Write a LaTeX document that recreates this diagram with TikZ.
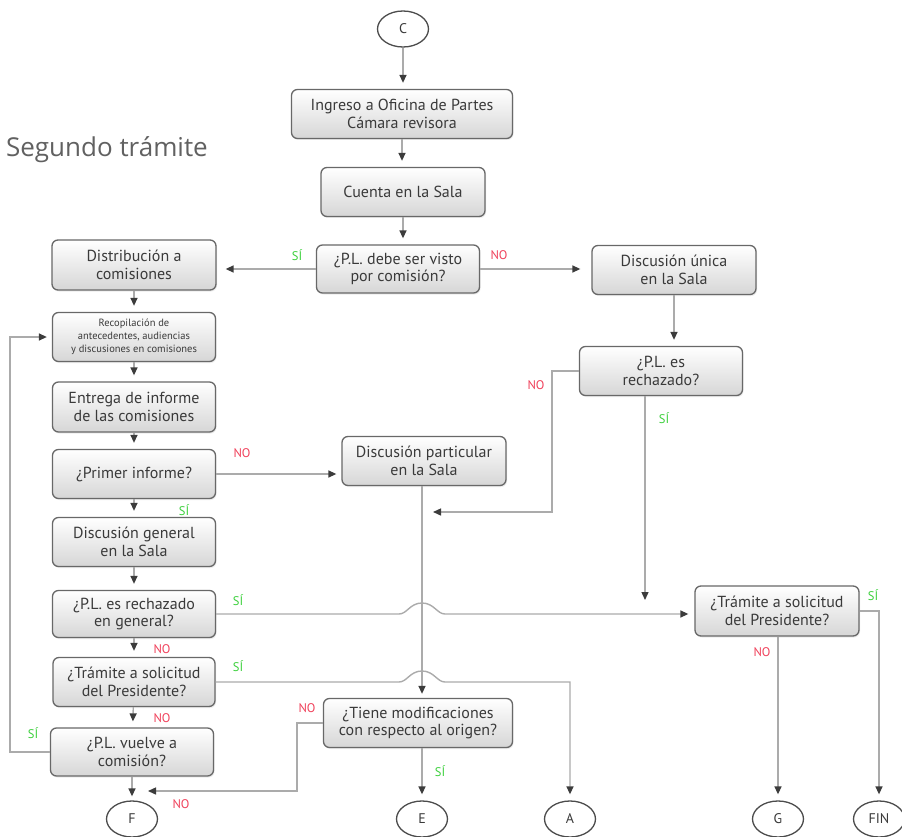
\documentclass[tikz,border=0pt]{standalone}
\usepackage{fontspec}
\setmainfont{PT Sans}
\newfontfamily\titlefont{Open Sans}
\usetikzlibrary{arrows.meta,shapes.geometric,shadows}
\definecolor{lnc}{HTML}{ABABAB}
\definecolor{tipc}{HTML}{3C3C3C}
\definecolor{bdc}{HTML}{686868}
\definecolor{txc}{HTML}{3A3A3A}
\definecolor{sigreen}{HTML}{3BD03B}
\definecolor{nored}{HTML}{F0405A}
\tikzset{
  box/.style={draw=bdc, line width=1.3pt, rounded corners=6pt, top color=white, bottom color=black!16,
    minimum width=#1, minimum height=49pt, align=center, inner sep=1pt, text=txc,
    font=\fontsize{16}{17.5}\selectfont,
    drop shadow={opacity=0.15,shadow xshift=1pt,shadow yshift=-1.5pt}},
  box/.default=164pt,
  term/.style={draw=black!70, line width=1.3pt, ellipse, minimum width=51pt, minimum height=36pt,
    fill=white, font=\fontsize{14}{16}\selectfont, text=txc, inner sep=0pt},
  conn/.style={draw=lnc, line width=1.4pt},
  arr/.style={conn, -{Triangle[length=8pt,width=7pt,color=tipc]}, shorten >=6pt},
  yes/.style={text=sigreen, font=\fontsize{12.5}{13}\selectfont, inner sep=0pt},
  no/.style={text=nored, font=\fontsize{12.5}{13}\selectfont, inner sep=0pt},
}
\begin{document}
\begin{tikzpicture}[x=1pt,y=-1pt]
\useasboundingbox[fill=white] (0,0) rectangle (902,837);

% title
\node[anchor=base east, font=\titlefont\fontsize{26}{30}\selectfont, text=black!62, inner sep=0pt] (title) at (208,157) {Segundo trámite};

% nodes
\node[term] (C) at (403,29) {C};
\node[box=221pt] (ing) at (402,114) {Ingreso a Oficina de Partes\\Cámara revisora};
\node[box] (cta) at (403,192) {Cuenta en la Sala};
\node[box=163pt, minimum height=48pt] (d1) at (398,269) {¿P.L. debe ser visto\\por comisión?};
\node[box, minimum height=50pt] (dist) at (134,265) {Distribución a\\comisiones};
\node[box] (unica) at (674,270) {Discusión única\\en la Sala};
\node[box=163pt, font=\fontsize{10.5}{13}\selectfont] (recop) at (134,337) {Recopilación de\\antecedentes, audiencias\\y discusiones en comisiones};
\node[box=163pt, minimum height=50pt] (entrega) at (134,407) {Entrega de informe\\de las comisiones};
\node[box=163pt] (primer) at (134,474) {¿Primer informe?};
\node[box] (partic) at (424,461) {Discusión particular\\en la Sala};
\node[box=163pt] (rech1) at (661,371) {¿P.L. es\\rechazado?};
\node[box=163pt] (general) at (134,542) {Discusión general\\en la Sala};
\node[box=163pt, minimum height=47pt] (rechg) at (134,614) {¿P.L. es rechazado\\en general?};
\node[box=162pt] (traml) at (134,682) {¿Trámite a solicitud\\del Presidente?};
\node[box=163pt, minimum height=48pt] (vuelve) at (132,752) {¿P.L. vuelve a\\comisión?};
\node[box=189pt] (tiene) at (418,723) {¿Tiene modificaciones\\con respecto al origen?};
\node[box, minimum height=50pt] (tramr) at (777,611) {¿Trámite a solicitud\\del Presidente?};

\node[term] (F) at (132,819) {F};
\node[term] (E) at (422,819) {E};
\node[term] (A) at (570,819) {A};
\node[term] (G) at (778,819) {G};
\node[term] (FIN) at (879,819) {FIN};

% helper coordinates
\coordinate (vx) at (422,0);
\coordinate (jn) at (422,512);
\coordinate (mg) at (645,613);
\coordinate (fj) at (132,791);

% connectors
\draw[arr] (C.south) -- (C.south |- ing.north);
\draw[arr] (ing) -- (ing |- cta.north);
\draw[arr] (cta.south) -- (cta.south |- d1.north);
\draw[arr, shorten >=9pt] (d1.west) -- (dist.east |- d1.west);
\draw[arr, shorten >=11pt] (d1.east) -- (unica.west |- d1.east);
\draw[arr] (unica.south) -- (unica.south |- rech1.north);

\draw[arr] (dist) -- (recop);
\draw[arr] (recop) -- (entrega);
\draw[arr] (entrega) -- (primer);
\draw[arr] (primer) -- (general);
\draw[arr] (general) -- (rechg);
\draw[arr] (rechg) -- (traml);
\draw[arr] (traml) -- (vuelve);
\draw[arr, shorten >=4pt] (vuelve) -- (F);

\draw[arr, shorten >=5pt] (primer.east) -- (partic.west |- primer.east);
\draw[arr, shorten >=4pt] (partic.south -| vx) -- (tiene.north -| vx);
\draw[arr, shorten >=11pt] (rech1.west) -- ++(-27,0) |- (jn);
\draw[arr, shorten >=13pt] (rech1.south -| mg) -- (mg);

% lines with jumps over the vertical at x=422
\draw[arr] (rechg.east) -- (399,614) .. controls (407,614) and (410,603) .. (422,603)
  .. controls (434,603) and (437,614) .. (445,614) -- (tramr.west |- rechg.east);
\draw[arr] (traml.east) -- (399,682) .. controls (407,682) and (410,671) .. (422,671)
  .. controls (434,671) and (437,682) .. (445,682) -- (A.north |- traml.east) -- (A.north);

\draw[arr, shorten >=5pt] (vuelve.west) -- (10,752) |- (recop.west);
\draw[arr, shorten >=16pt] (tiene.west) -- (297,723) |- (fj);
\draw[arr] (tiene.south -| E) -- (E);
\draw[arr] (tramr.east) -| (FIN.north);
\draw[arr] (tramr.south -| G) -- (G);

% labels
\node[yes] (l1) at (297,255) {SÍ};
\node[no]  (l2) at (499,255) {NO};
\node[no]  (l3) at (536,385) {NO};
\node[yes] (l4) at (664,418) {SÍ};
\node[no]  (l5) at (242,453) {NO};
\node[yes] (l6) at (184,510) {SÍ};
\node[yes] (l7) at (238,600) {SÍ};
\node[no]  (l8) at (162,649) {NO};
\node[yes] (l9) at (238,666) {SÍ};
\node[no]  (l10) at (162,718) {NO};
\node[yes] (l11) at (33,733) {SÍ};
\node[no]  (l12) at (181,804) {NO};
\node[no]  (l13) at (307,708) {NO};
\node[yes] (l14) at (440,771) {SÍ};
\node[yes] (l15) at (873,595) {SÍ};
\node[no]  (l16) at (762,652) {NO};
\end{tikzpicture}
\end{document}
